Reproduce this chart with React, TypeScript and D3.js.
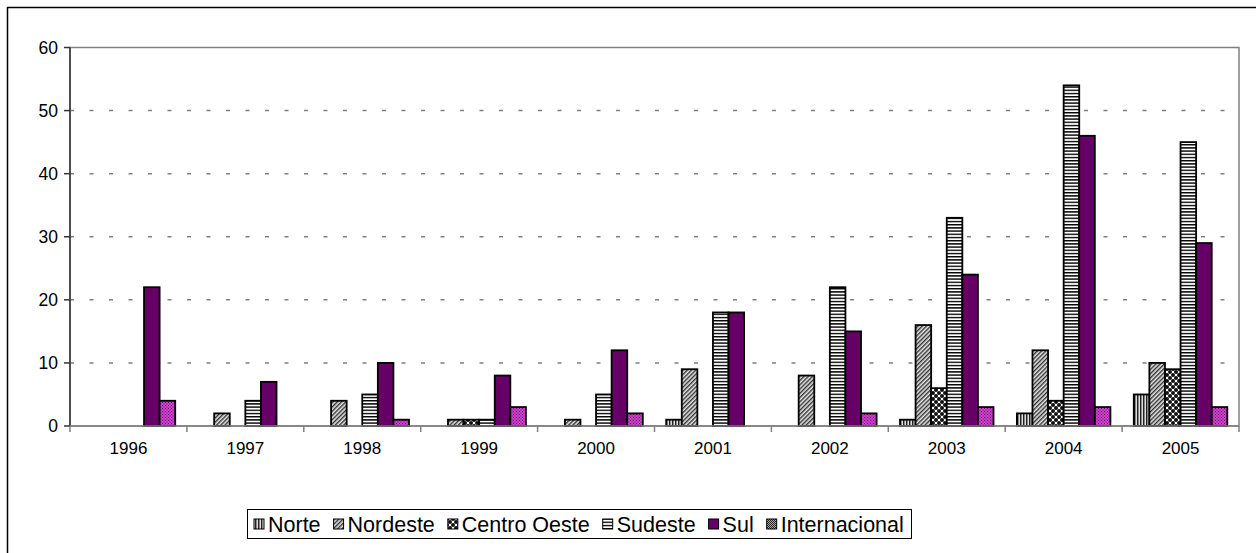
import * as d3 from 'd3'
import { useEffect, useRef } from 'react'

// categorias (anos) e séries
const years = ['1996', '1997', '1998', '1999', '2000', '2001', '2002', '2003', '2004', '2005']
const seriesNames = ['Norte', 'Nordeste', 'Centro Oeste', 'Sudeste', 'Sul', 'Internacional']
const norte = [0, 0, 0, 0, 0, 1, 0, 1, 2, 5]
const nordeste = [0, 2, 4, 1, 1, 9, 8, 16, 12, 10]
const centroOeste = [0, 0, 0, 1, 0, 0, 0, 6, 4, 9]
const sudeste = [0, 4, 5, 1, 5, 18, 22, 33, 54, 45]
const sul = [22, 7, 10, 8, 12, 18, 15, 24, 46, 29]
const internacional = [4, 0, 1, 3, 2, 0, 2, 3, 3, 3]
const yTicks = [0, 10, 20, 30, 40, 50, 60]

const seriesValues = [norte, nordeste, centroOeste, sudeste, sul, internacional]
const fills = ['url(#pNorte)', 'url(#pNordeste)', 'url(#pCO)', 'url(#pSudeste)', '#660066', 'url(#pInt)']
const legendFills = ['url(#pNorte)', 'url(#pNordeste)', 'url(#pCO)', 'url(#pSudeste)', '#660066', 'url(#pIntLeg)']

const App = () => {
	const svgRef = useRef<SVGSVGElement>(null)

	const width = 1256
	const height = 553
	const left = 70
	const right = 1239
	const top = 47.5
	const bottom = 426
	const font = "'Liberation Sans', Arial, sans-serif"

	useEffect(() => {
		const root = d3.select(svgRef.current)
		root.selectAll('*').remove()
		const svg = root.attr('width', width).attr('height', height)

		// padrões de preenchimento
		const defs = svg.append('defs')
		const pn = defs.append('pattern').attr('id', 'pNorte').attr('patternUnits', 'userSpaceOnUse').attr('width', 3).attr('height', 3)
		pn.append('rect').attr('width', 3).attr('height', 3).attr('fill', '#dddddd')
		pn.append('rect').attr('x', 0).attr('width', 1).attr('height', 3).attr('fill', '#222')
		pn.append('rect').attr('x', 1).attr('width', 1).attr('height', 3).attr('fill', '#888')

		const pd = defs.append('pattern').attr('id', 'pNordeste').attr('patternUnits', 'userSpaceOnUse').attr('width', 3).attr('height', 3).attr('patternTransform', 'rotate(45)')
		pd.append('rect').attr('width', 3).attr('height', 3).attr('fill', '#e4e4e4')
		pd.append('rect').attr('width', 1.4).attr('height', 3).attr('fill', '#333')

		const pc = defs.append('pattern').attr('id', 'pCO').attr('patternUnits', 'userSpaceOnUse').attr('width', 6).attr('height', 6)
		pc.append('rect').attr('width', 6).attr('height', 6).attr('fill', '#fff')
		;[[0, 0], [6, 0], [0, 6], [6, 6], [3, 3]].forEach(([cx, cy]) => {
			pc.append('circle').attr('cx', cx).attr('cy', cy).attr('r', 2).attr('fill', '#111')
		})

		const ps = defs.append('pattern').attr('id', 'pSudeste').attr('patternUnits', 'userSpaceOnUse').attr('width', 4).attr('height', 3.2)
		ps.append('rect').attr('width', 4).attr('height', 3.2).attr('fill', '#fff')
		ps.append('rect').attr('width', 4).attr('height', 1.4).attr('fill', '#000')

		const pi = defs.append('pattern').attr('id', 'pInt').attr('patternUnits', 'userSpaceOnUse').attr('width', 3).attr('height', 3)
		pi.append('rect').attr('width', 3).attr('height', 3).attr('fill', '#cc44cc')
		pi.append('rect').attr('width', 1).attr('height', 1).attr('fill', '#660066')
		pi.append('rect').attr('x', 1.5).attr('y', 1.5).attr('width', 1).attr('height', 1).attr('fill', '#770077')

		const pl = defs.append('pattern').attr('id', 'pIntLeg').attr('patternUnits', 'userSpaceOnUse').attr('width', 2).attr('height', 2)
		pl.append('rect').attr('width', 2).attr('height', 2).attr('fill', '#aaa')
		pl.append('rect').attr('width', 1).attr('height', 1).attr('fill', '#222')
		pl.append('rect').attr('x', 1).attr('y', 1).attr('width', 1).attr('height', 1).attr('fill', '#222')

		// fundo e borda externa
		svg.append('rect').attr('width', width).attr('height', height).attr('fill', '#fff')
		svg.append('rect').attr('x', 7.5).attr('y', 7.5).attr('width', 1270).attr('height', 570)
			.attr('fill', 'none').attr('stroke', '#000').attr('stroke-width', 1.5)

		// escalas
		const x = d3.scaleBand().domain(years).range([left, right]).padding(0)
		const xs = d3.scaleBand().domain(seriesNames).range([0, x.bandwidth()]).paddingInner(0).paddingOuter(0.75)
		const y = d3.scaleLinear().domain([0, 60]).range([bottom, top])

		// área de plotagem
		svg.append('rect').attr('x', left).attr('y', top).attr('width', right - left).attr('height', bottom - top)
			.attr('fill', 'none').attr('stroke', '#808080').attr('stroke-width', 1.5)

		// linhas de grade
		svg.append('g').selectAll('line').data(yTicks.filter((t) => t > 0 && t < 60)).join('line')
			.attr('x1', left).attr('x2', right)
			.attr('y1', (d) => y(d)).attr('y2', (d) => y(d))
			.attr('stroke', '#808080').attr('stroke-width', 1.5).attr('stroke-dasharray', '4,15.5')

		// barras
		seriesValues.forEach((vals, si) => {
			svg.append('g').selectAll('rect')
				.data(vals.map((v, i) => ({ v, year: years[i] })).filter((d) => d.v > 0))
				.join('rect')
				.attr('x', (d) => (x(d.year) as number) + (xs(seriesNames[si]) as number))
				.attr('y', (d) => y(d.v))
				.attr('width', xs.bandwidth())
				.attr('height', (d) => bottom - y(d.v))
				.attr('fill', fills[si])
				.attr('stroke', '#000').attr('stroke-width', 1.8)
		})

		// eixo Y
		svg.append('line').attr('x1', left).attr('x2', left).attr('y1', top).attr('y2', bottom)
			.attr('stroke', '#333').attr('stroke-width', 1.5)
		const yt = svg.append('g').selectAll('g').data(yTicks).join('g')
		yt.append('line').attr('x1', left - 6).attr('x2', left).attr('y1', (d) => y(d)).attr('y2', (d) => y(d))
			.attr('stroke', '#333').attr('stroke-width', 1.5)
		yt.append('text').attr('x', left - 12).attr('y', (d) => y(d)).attr('dy', '0.35em')
			.attr('text-anchor', 'end').attr('font-family', font).attr('font-size', 17.5).attr('fill', '#000')
			.text((d) => d)

		// eixo X
		svg.append('line').attr('x1', left).attr('x2', right).attr('y1', bottom).attr('y2', bottom)
			.attr('stroke', '#808080').attr('stroke-width', 1.5)
		const bounds = years.map((yr) => x(yr) as number).concat([right])
		svg.append('g').selectAll('line').data(bounds).join('line')
			.attr('x1', (d) => d).attr('x2', (d) => d).attr('y1', bottom).attr('y2', bottom + 6)
			.attr('stroke', '#808080').attr('stroke-width', 1.5)
		svg.append('g').selectAll('text').data(years).join('text')
			.attr('x', (d) => (x(d) as number) + x.bandwidth() / 2).attr('y', 448).attr('dy', '0.35em')
			.attr('text-anchor', 'middle').attr('font-family', font).attr('font-size', 17).attr('fill', '#000')
			.text((d) => d)

		// legenda
		svg.append('rect').attr('x', 247.5).attr('y', 509.5).attr('width', 664).attr('height', 29)
			.attr('fill', '#fff').attr('stroke', '#000').attr('stroke-width', 1)
		let lx = 254
		const ly = 524
		seriesNames.forEach((name, i) => {
			svg.append('rect').attr('x', lx).attr('y', ly - 5).attr('width', 10).attr('height', 10)
				.attr('fill', legendFills[i]).attr('stroke', '#000').attr('stroke-width', 1)
			const t = svg.append('text').attr('x', lx + 14).attr('y', ly).attr('dy', '0.35em')
				.attr('font-family', font).attr('font-size', 21.5).attr('fill', '#000').text(name)
			const w = (t.node() as SVGTextElement).getComputedTextLength()
			lx += 14 + w + 13
		})
	}, [])

	return (
		<svg ref={svgRef} style={{ position: 'absolute', left: 0, top: 0 }}></svg>
	)
}

export default App
